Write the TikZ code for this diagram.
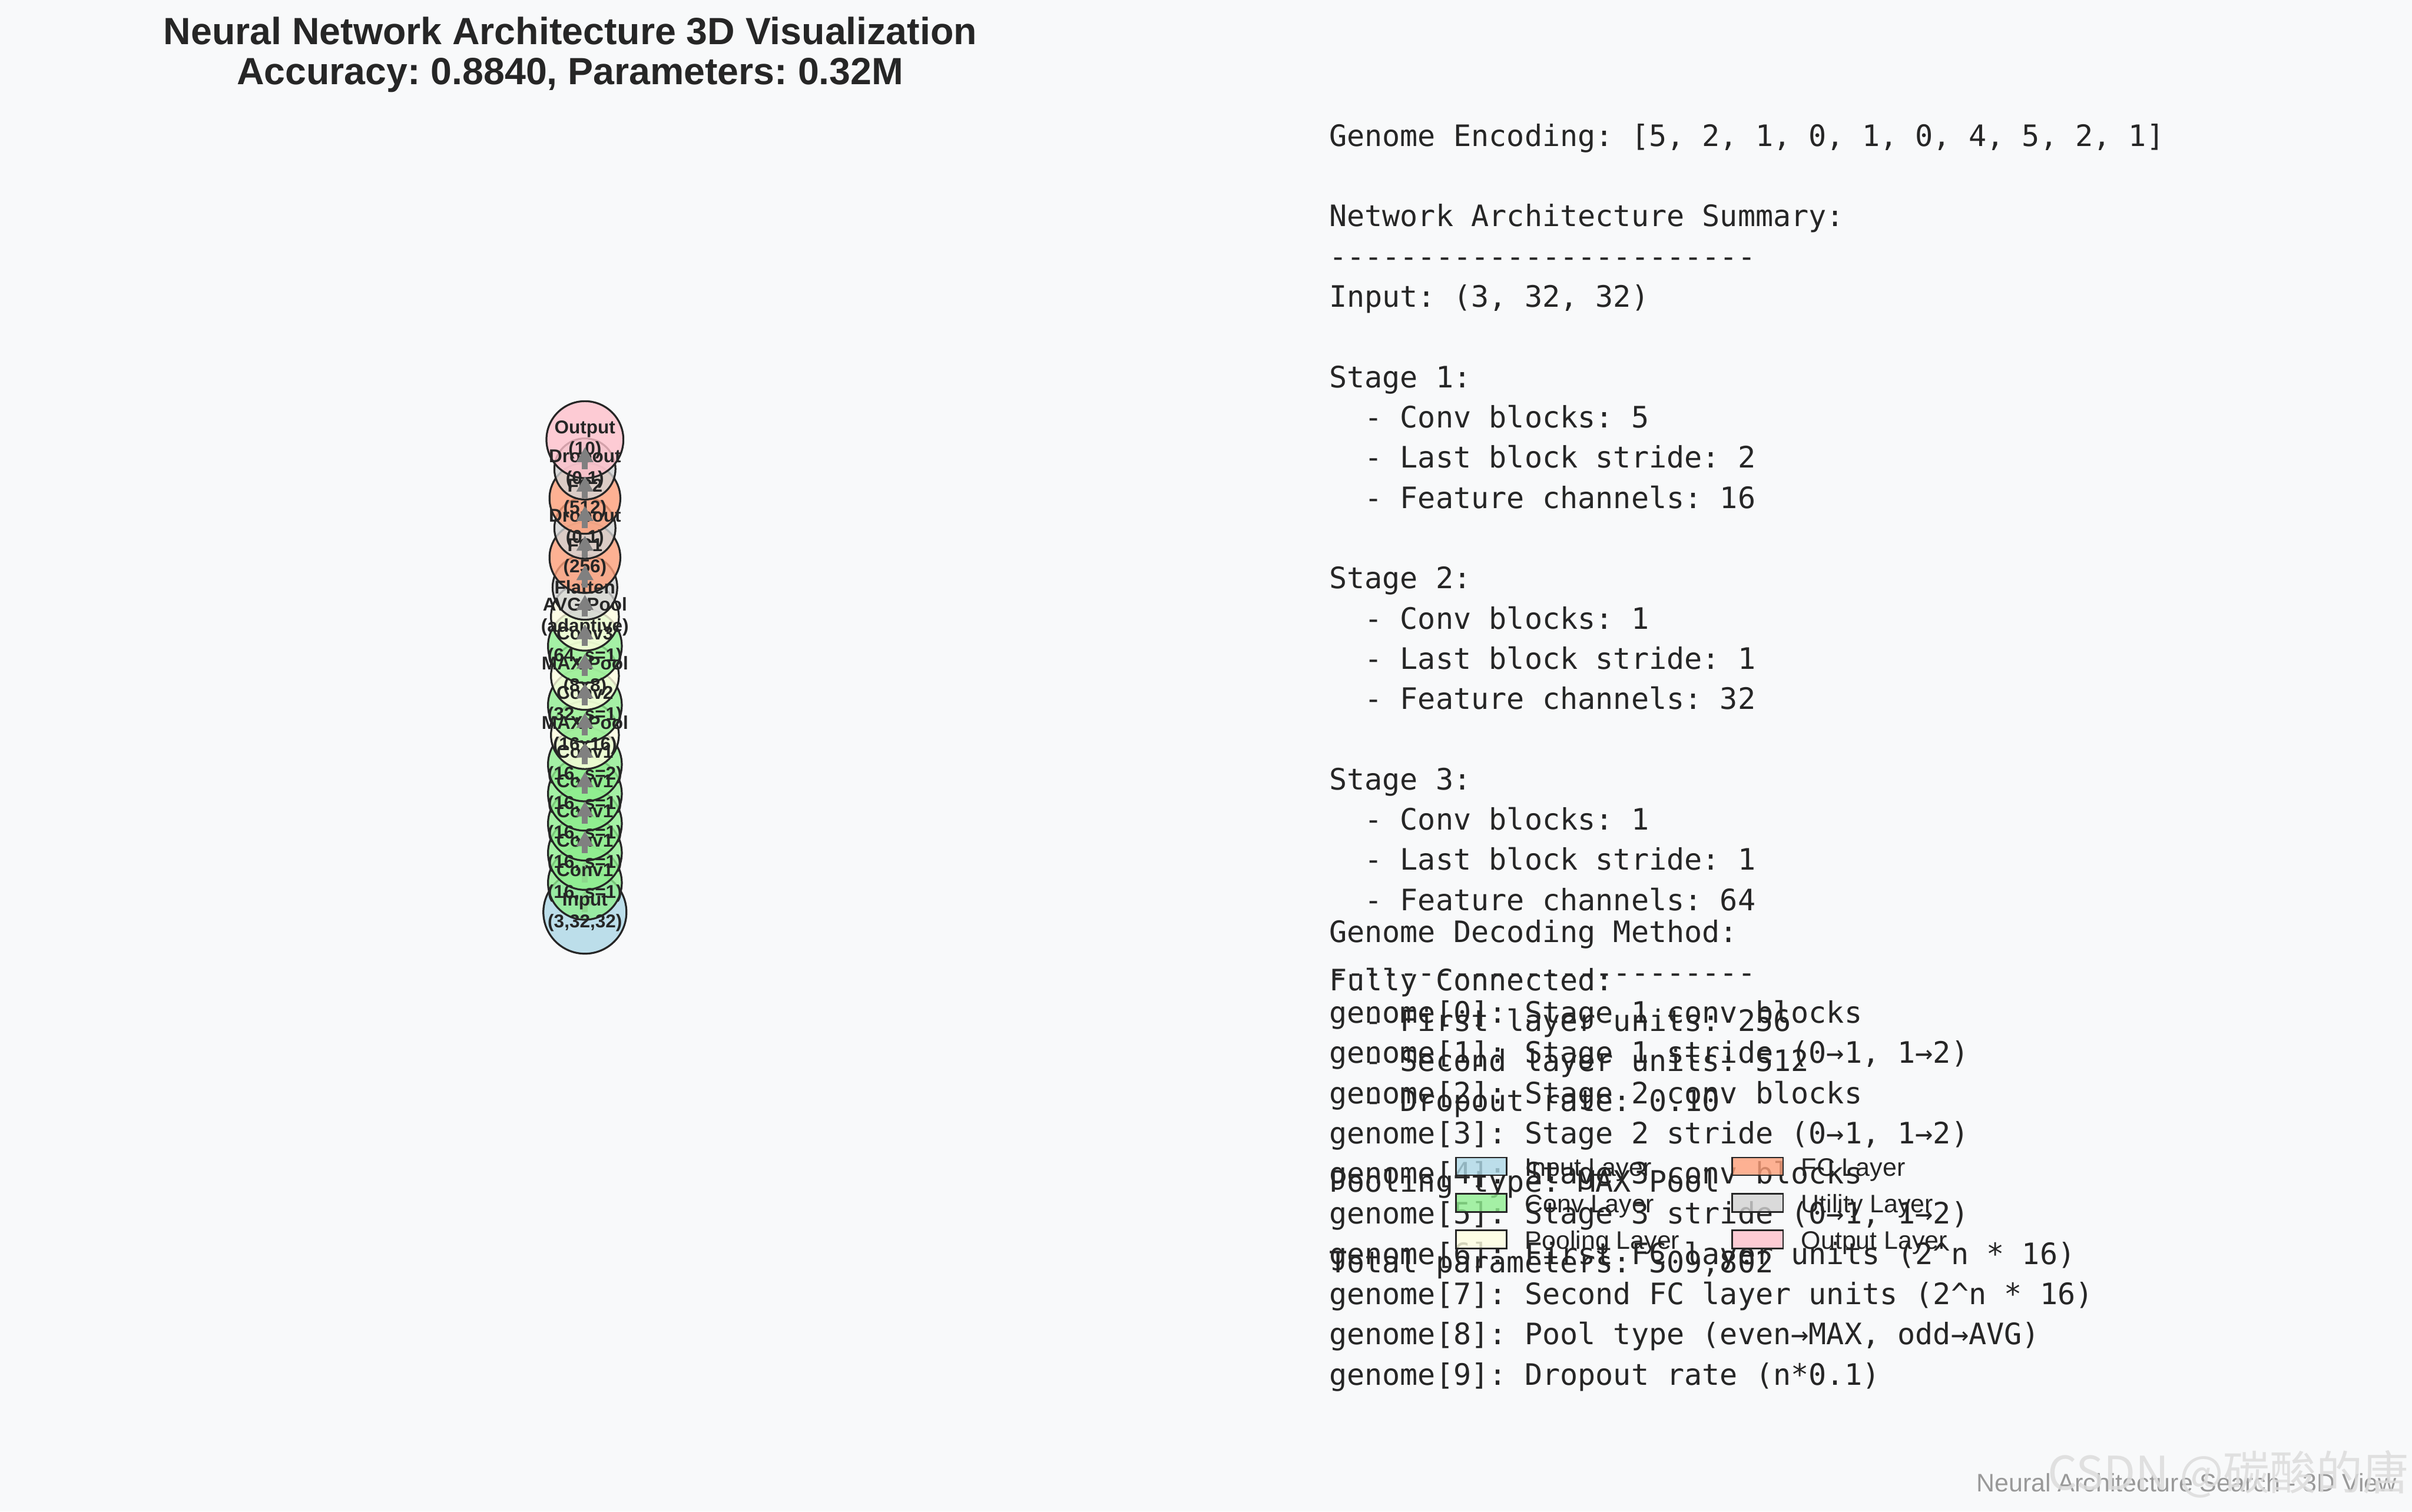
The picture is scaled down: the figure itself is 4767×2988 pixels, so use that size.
\documentclass[tikz,border=0pt]{standalone}
\usepackage{fontspec}
\setmainfont{Liberation Sans}
\newfontfamily\monofont{DejaVu Sans Mono}
\newfontfamily\cjkfont{Noto Sans CJK SC}
\usetikzlibrary{arrows.meta,calc}
\definecolor{bgc}{HTML}{F8F9FA}
\definecolor{ink}{HTML}{262626}
\definecolor{inputc}{HTML}{ADD8E6}
\definecolor{convc}{HTML}{90EE90}
\definecolor{poolc}{HTML}{FFFFE0}
\definecolor{fcc}{HTML}{FFA07A}
\definecolor{utilc}{HTML}{D3D3D3}
\definecolor{outc}{HTML}{FFC0CB}
\definecolor{flowc}{HTML}{808080}
\definecolor{footc}{HTML}{999999}
\definecolor{markc}{HTML}{DCDCDC}
\newcommand\dashrow{\foreach \k in {1,...,24}{-\kern0pt}}
\tikzset{
  layer/.style={circle, draw=ink, line width=0.9pt, fill opacity=0.8, inner sep=0pt},
  lbl/.style={text=ink, font=\bfseries\fontsize{8.8}{10.2}\selectfont, align=center, inner sep=0pt},
  flow/.style={draw=flowc, line width=2.8pt, -{Triangle[length=7.2pt,width=7.6pt]}},
  mono/.style={text=ink, font=\monofont\fontsize{14}{17}\selectfont, anchor=base west, inner sep=0pt},
  key/.style={draw=ink, line width=0.8pt, fill opacity=0.8},
  keytext/.style={text=ink, font=\fontsize{12}{14}\selectfont, anchor=base west, inner sep=0pt},
}
\begin{document}
\frenchspacing
\begin{tikzpicture}[x=0.24pt,y=-0.24pt]
  % page, pixel grid of the reference
  \fill[bgc] (0,0) rectangle (4767,2988);
  \useasboundingbox (0,0) rectangle (4767,2988);

  % title
  \node[text=ink, font=\bfseries\fontsize{18}{20}\selectfont, anchor=base] (title) at (1127,88) {Neural Network Architecture 3D Visualization};
  \node[text=ink, font=\bfseries\fontsize{18}{20}\selectfont, anchor=base] (subtitle) at (1127,167) {Accuracy: 0.8840, Parameters: 0.32M};

  % layer stack, bottom to top
  \node[layer, fill=inputc, minimum size=39.4pt] (n0) at (1156,1803) {};
  \draw[flow] (n0.center) -- ($(n0.center)!0.75!(1156,1745)$);
  \node[layer, fill=convc, minimum size=35pt] (n1) at (1156,1745) {};
  \draw[flow] (n1.center) -- ($(n1.center)!0.75!(1156,1686)$);
  \node[layer, fill=convc, minimum size=35pt] (n2) at (1156,1686) {};
  \node[layer, fill=convc, minimum size=35pt] (n3) at (1156,1628) {};
  \node[layer, fill=convc, minimum size=35pt] (n4) at (1156,1569) {};
  \node[layer, fill=convc, minimum size=35pt] (n5) at (1156,1511) {};
  \node[layer, fill=poolc, minimum size=32.2pt] (n6) at (1156,1453) {};
  \node[layer, fill=convc, minimum size=35pt] (n7) at (1156,1394) {};
  \node[layer, fill=poolc, minimum size=32.2pt] (n8) at (1156,1336) {};
  \node[layer, fill=convc, minimum size=35pt] (n9) at (1156,1277) {};
  \node[layer, fill=poolc, minimum size=32.2pt] (n10) at (1156,1219) {};
  \node[layer, fill=utilc, minimum size=30.7pt] (n11) at (1156,1161) {};
  \node[layer, fill=fcc, minimum size=33.6pt] (n12) at (1156,1102) {};
  \node[layer, fill=utilc, minimum size=29pt] (n13) at (1156,1044) {};
  \node[layer, fill=fcc, minimum size=33.6pt] (n14) at (1156,985) {};
  \node[layer, fill=utilc, minimum size=29pt] (n15) at (1156,927) {};
  \node[layer, fill=outc, minimum size=36.5pt] (n16) at (1156,869) {};

  \node[lbl] (t0) at (n0) {Input\\(3,32,32)};
  \node[lbl] (t1) at (n1) {Conv1\\(16, s=1)};
  \node[lbl] (t2) at (n2) {Conv1\\(16, s=1)};
  \node[lbl] (t3) at (n3) {Conv1\\(16, s=1)};
  \node[lbl] (t4) at (n4) {Conv1\\(16, s=1)};
  \node[lbl] (t5) at (n5) {Conv1\\(16, s=2)};
  \node[lbl] (t6) at (n6) {MAX Pool\\(16x16)};
  \node[lbl] (t7) at (n7) {Conv2\\(32, s=1)};
  \node[lbl] (t8) at (n8) {MAX Pool\\(8x8)};
  \node[lbl] (t9) at (n9) {Conv3\\(64, s=1)};
  \node[lbl] (t10) at (n10) {AVG Pool\\(adaptive)};
  \node[lbl] (t11) at (n11) {Flatten};
  \node[lbl] (t12) at (n12) {FC1\\(256)};
  \node[lbl] (t13) at (n13) {Dropout\\(0.1)};
  \node[lbl] (t14) at (n14) {FC2\\(512)};
  \node[lbl] (t15) at (n15) {Dropout\\(0.1)};
  \node[lbl] (t16) at (n16) {Output\\(10)};

  \foreach \a/\b in {2/3,3/4,4/5,5/6,6/7,7/8,8/9,9/10,10/11,11/12,12/13,13/14,14/15,15/16}
    \draw[flow] (n\a.center) -- ($(n\a.center)!0.75!(n\b.center)$);

  % summary text
  \foreach \i/\txt in {0/{Genome Encoding: [5, 2, 1, 0, 1, 0, 4, 5, 2, 1]},
      2/{Network Architecture Summary:}, 3/{\dashrow}, 4/{Input: (3, 32, 32)},
      6/{Stage 1:}, 7/{\ \ - Conv blocks: 5}, 8/{\ \ - Last block stride: 2}, 9/{\ \ - Feature channels: 16},
      11/{Stage 2:}, 12/{\ \ - Conv blocks: 1}, 13/{\ \ - Last block stride: 1}, 14/{\ \ - Feature channels: 32},
      16/{Stage 3:}, 17/{\ \ - Conv blocks: 1}, 18/{\ \ - Last block stride: 1}, 19/{\ \ - Feature channels: 64},
      21/{Fully Connected:}, 22/{\ \ - First layer units: 256}, 23/{\ \ - Second layer units: 512},
      24/{\ \ - Dropout rate: 0.10}, 26/{Pooling type: MAX Pool}, 28/{Total parameters: 309,802}}
    \node[mono] (sum\i) at (2626,{289+79.5*\i}) {\txt};

  % decoding text
  \foreach \i/\txt in {0/{Genome Decoding Method:}, 1/{\dashrow},
      2/{genome[0]: Stage 1 conv blocks}, 3/{genome[1]: Stage 1 stride (0→1, 1→2)},
      4/{genome[2]: Stage 2 conv blocks}, 5/{genome[3]: Stage 2 stride (0→1, 1→2)},
      6/{genome[4]: Stage 3 conv blocks}, 7/{genome[5]: Stage 3 stride (0→1, 1→2)},
      8/{genome[6]: First FC layer units (2\textasciicircum n * 16)},
      9/{genome[7]: Second FC layer units (2\textasciicircum n * 16)},
      10/{genome[8]: Pool type (even→MAX, odd→AVG)}, 11/{genome[9]: Dropout rate (n*0.1)}}
    \node[mono] (dec\i) at (2626,{1863+79.5*\i}) {\txt};

  % legend
  \draw[key, fill=inputc] (2877,2288) rectangle (2978,2323);
  \draw[key, fill=convc] (2877,2360) rectangle (2978,2396);
  \draw[key, fill=poolc] (2877,2432) rectangle (2978,2468);
  \draw[key, fill=fcc] (3423,2288) rectangle (3524,2323);
  \draw[key, fill=utilc] (3423,2360) rectangle (3524,2396);
  \draw[key, fill=outc] (3423,2432) rectangle (3524,2468);
  \node[keytext] (kin) at (3013,2325) {Input Layer};
  \node[keytext] (kconv) at (3013,2397) {Conv Layer};
  \node[keytext] (kpool) at (3013,2469) {Pooling Layer};
  \node[keytext] (kfc) at (3559,2325) {FC Layer};
  \node[keytext] (kutil) at (3559,2397) {Utility Layer};
  \node[keytext] (kout) at (3559,2469) {Output Layer};

  % footer and watermark
  \node[text=footc, font=\fontsize{12}{14}\selectfont, anchor=base east, inner sep=0pt] (foot) at (4737,2948) {Neural Architecture Search - 3D View};
  \node[text=markc, font=\cjkfont\fontsize{22}{24}\selectfont, anchor=base east, inner sep=0pt, opacity=0.85] (mark) at (4762,2945) {CSDN @碳酸的唐};
\end{tikzpicture}
\end{document}
